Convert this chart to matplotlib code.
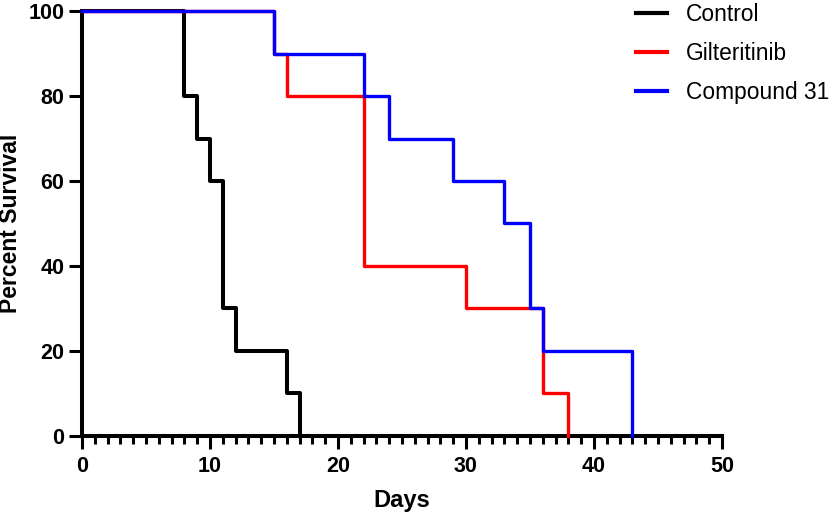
import numpy as np
import matplotlib
matplotlib.use("Agg")
import matplotlib.pyplot as plt
from matplotlib.ticker import MultipleLocator

plt.rcParams['font.family'] = ['Liberation Sans', 'DejaVu Sans']

# survival data (days, percent surviving)
control_days = [0, 8, 9, 10, 11, 12, 16, 17]
control_surv = [100, 80, 70, 60, 30, 20, 10, 0]

gilt_days = [0, 15, 16, 22, 30, 36, 38]
gilt_surv = [100, 90, 80, 40, 30, 10, 0]

cmpd_days = [0, 15, 22, 24, 29, 33, 35, 36, 43]
cmpd_surv = [100, 90, 80, 70, 60, 50, 30, 20, 0]

x_ticks = [0, 10, 20, 30, 40, 50]
y_ticks = [0, 20, 40, 60, 80, 100]

fig = plt.figure(figsize=(8.33, 5.17), dpi=100)
ax = fig.add_axes([0.0984, 0.1567, 0.7683, 0.822])

ax.step(control_days, control_surv, where='post', color='black', lw=2.9,
        label='Control', clip_on=False, zorder=3)
ax.step(gilt_days, gilt_surv, where='post', color='#ff0000', lw=2.4,
        label='Gilteritinib', clip_on=False, zorder=4)
ax.step(cmpd_days, cmpd_surv, where='post', color='#0000ff', lw=2.4,
        label='Compound 31', clip_on=False, zorder=5)

ax.set_xlim(0, 50)
ax.set_ylim(0, 100)
ax.set_xticks(x_ticks)
ax.set_yticks(y_ticks)
ax.xaxis.set_minor_locator(MultipleLocator(1))

for s in ['top', 'right']:
    ax.spines[s].set_visible(False)
for s in ['left', 'bottom']:
    ax.spines[s].set_linewidth(2.9)

ax.tick_params(axis='both', which='major', length=9.5, width=2.2, labelsize=15.5, color='black')
ax.tick_params(axis='x', which='minor', length=5.5, width=2.2)
ax.tick_params(axis='x', which='major', pad=5)
ax.tick_params(axis='y', which='major', pad=3)
for lab in ax.get_xticklabels() + ax.get_yticklabels():
    lab.set_fontweight('bold')

ax.set_xlabel('Days', fontsize=17, fontweight='bold')
ax.set_ylabel('Percent Survival', fontsize=16.5, fontweight='bold')
ax.xaxis.set_label_coords(0.5, -0.125)
ax.yaxis.set_label_coords(-0.094, 0.5)

leg = ax.legend(loc='upper left', bbox_to_anchor=(0.764, 0.994),
                bbox_transform=fig.transFigure, frameon=False, fontsize=16.4,
                handlelength=1.36, handletextpad=0.8, labelspacing=0.7,
                borderpad=0, borderaxespad=0)
for line in leg.get_lines():
    line.set_linewidth(3)

fig.savefig('out.png', dpi=100)
